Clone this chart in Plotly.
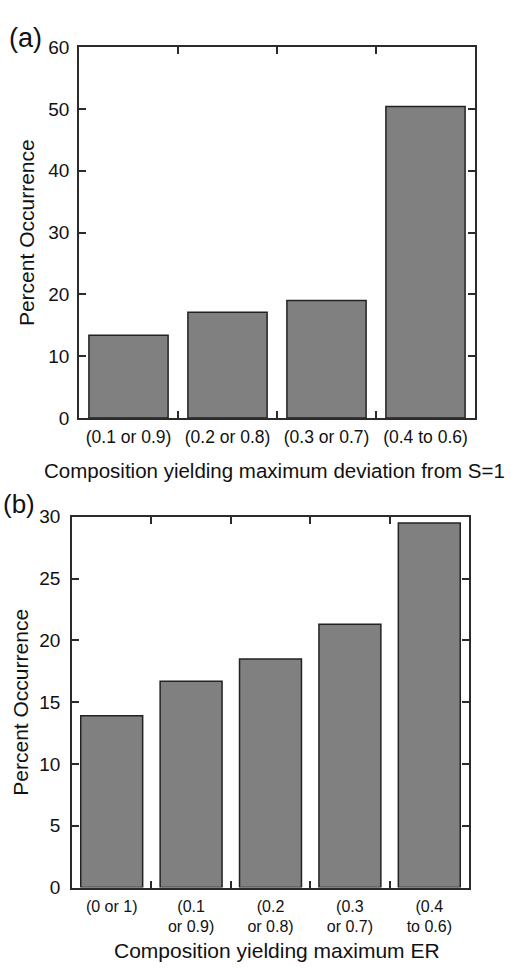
import plotly.graph_objects as go

# Panel (a)
cats_a = ["(0.1 or 0.9)", "(0.2 or 0.8)", "(0.3 or 0.7)", "(0.4 to 0.6)"]
vals_a = [13.4, 17.1, 19.0, 50.4]
yticks_a = [0, 10, 20, 30, 40, 50, 60]

# Panel (b)
cats_b = ["(0 or 1)", "(0.1<br>or 0.9)", "(0.2<br>or 0.8)", "(0.3<br>or 0.7)", "(0.4<br>to 0.6)"]
vals_b = [13.9, 16.7, 18.5, 21.3, 29.5]
yticks_b = [0, 5, 10, 15, 20, 25, 30]

W, H = 521, 971
FONT = "Liberation Sans, Arial, Helvetica, sans-serif"
AX = "#2b2b2b"
BAR = "#808080"

def px_x(p):
    return p / W

def px_y(p):
    return 1 - p / H

fig = go.Figure()
fig.add_trace(go.Bar(x=cats_a, y=vals_a, xaxis="x", yaxis="y", width=0.8,
                     marker=dict(color=BAR, line=dict(color="#222222", width=1.5)),
                     showlegend=False))
fig.add_trace(go.Bar(x=cats_b, y=vals_b, xaxis="x2", yaxis="y2", width=0.78,
                     marker=dict(color=BAR, line=dict(color="#222222", width=1.5)),
                     showlegend=False))

xcommon = dict(type="category", showline=True, linecolor=AX, linewidth=1.5,
               mirror="ticks", ticks="inside", tickson="boundaries", ticklen=7,
               tickcolor=AX, tickwidth=1.5, showgrid=False, zeroline=False,
               fixedrange=True)
ycommon = dict(showline=True, linecolor=AX, linewidth=1.5, mirror="ticks",
               ticks="inside", ticklen=7, tickcolor=AX, tickwidth=1.5,
               showgrid=False, zeroline=False,
               tickfont=dict(family=FONT, size=19, color="#111"), fixedrange=True)

fig.update_layout(
    width=W, height=H,
    margin=dict(l=0, r=0, t=0, b=0),
    paper_bgcolor="white", plot_bgcolor="white",
    bargap=0.2,
    xaxis=dict(domain=[px_x(79), px_x(475)], anchor="y", ticklabelstandoff=2,
               tickfont=dict(family=FONT, size=17.5, color="#111"), **xcommon),
    yaxis=dict(domain=[px_y(417), px_y(38)], anchor="x", range=[0, 60],
               tickvals=yticks_a, ticklabelstandoff=4, **ycommon),
    xaxis2=dict(domain=[px_x(72), px_x(469)], anchor="y2", ticklabelstandoff=3,
                tickfont=dict(family=FONT, size=16, color="#111"), **xcommon),
    yaxis2=dict(domain=[px_y(897), px_y(518)], anchor="x2", range=[0, 30],
                tickvals=yticks_b, ticklabelstandoff=6, **ycommon),
)

def ann(text, x, y, size, angle=0):
    fig.add_annotation(text=text, x=px_x(x), y=px_y(y), xref="paper", yref="paper",
                       showarrow=False, textangle=angle, xanchor="center", yanchor="middle",
                       font=dict(family=FONT, size=size, color="#111"))

ann("(a)", 25, 29, 27)
ann("(b)", 19, 505, 26)
ann("Percent Occurrence", 26, 228, 21, -90)
ann("Percent Occurrence", 21, 708, 21, -90)
ann("Composition yielding maximum deviation from S=1", 274, 471, 20.5)
ann("Composition yielding maximum ER", 277, 961, 21)

fig.write_html("out.html")
